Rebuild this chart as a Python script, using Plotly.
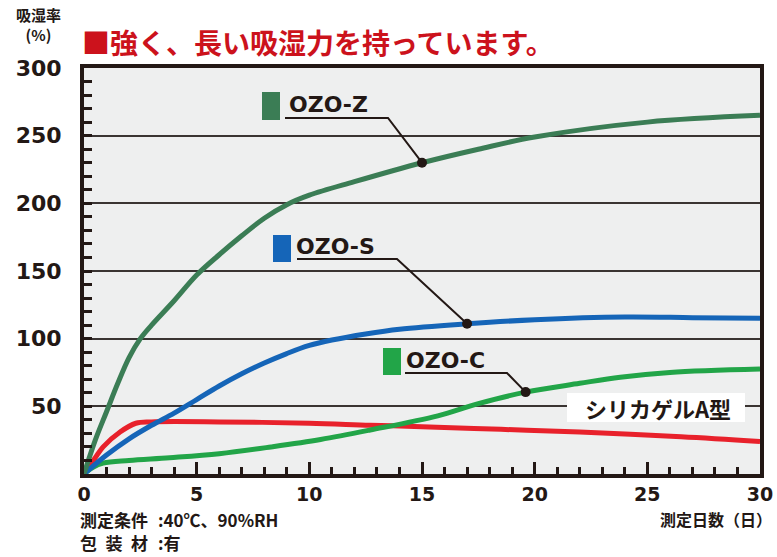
import plotly.graph_objects as go
import numpy as np

# ---------------- data ----------------
z_days = [0, 0.5, 1, 1.5, 2, 2.5, 3, 4, 5, 6, 7, 8, 9, 10, 12, 15, 17.5, 20, 25, 30]
z_vals = [0, 25, 46, 67, 86, 100, 110, 128, 147, 162, 176, 189, 199, 206, 216, 230, 240, 249, 260, 265]

s_days = [0, 1, 2, 3, 4, 5, 6, 7, 8, 9, 10, 11, 12.5, 14, 17, 20, 24, 27, 30]
s_vals = [0, 14, 26, 36, 45, 55, 65, 74, 82, 89, 95, 99, 103.5, 107, 111, 114, 116, 115.5, 115]

c_days = [0, 0.4, 0.85, 2, 3.8, 6, 8.3, 10.5, 12.7, 15.7, 17.5, 19.6, 22, 23.8, 26, 30]
c_vals = [0, 5, 8, 10, 12, 15, 20, 25.5, 32.5, 43, 52, 60.5, 67, 71.5, 75, 77.5]

a_days = [0, 0.5, 0.85, 1.6, 2.3, 3, 6, 10, 12.7, 15, 18.5, 22, 26.5, 30]
a_vals = [0, 12, 20, 31, 37.5, 38.5, 38.5, 37.5, 36, 35, 33, 31, 27.5, 24]

x_ticks = [0, 5, 10, 15, 20, 25, 30]
y_ticks = [50, 100, 150, 200, 250, 300]

names = ["OZO-Z", "OZO-S", "OZO-C"]
label_days = [15, 17, 19.6]          # where the leader lines touch the curves

title = "■強く、長い吸湿力を持っています。"
y_title = "吸湿率<br>(%)"
x_title = "測定日数（日）"
cond1_label = "測定条件"
cond1_value = ":40℃、90%RH"
cond2_label = "包\u2002装\u2002材"
cond2_value = ":有"
silica_name = "シリカゲルA型"

# ---------------- style ----------------
DARK = "#231815"
COL_Z = "#3b7d55"
COL_S = "#1565b8"
COL_C = "#22a548"
COL_A = "#e8212b"
BG = "#eeefef"
NUM_FONT = "DejaVu Sans"
JP_FONT = "Noto Sans CJK JP"

W, H = 777, 557
L, R, T, B = 84, 17, 68, 83
PW, PH = W - L - R, H - T - B


def px2x(px):
    return (px - L) / PW


def py2y(py):
    return (H - B - py) / PH


def dx(px):  # pixel -> data day
    return (px - L) / PW * 30


def dy(py):  # pixel -> data value
    return (H - B - py) / PH * 300


fig = go.Figure()

series = [
    (a_days, a_vals, COL_A, "シリカゲルA型"),
    (c_days, c_vals, COL_C, "OZO-C"),
    (s_days, s_vals, COL_S, "OZO-S"),
    (z_days, z_vals, COL_Z, "OZO-Z"),
]
for d, v, col, nm in series:
    fig.add_trace(go.Scatter(x=d, y=v, mode="lines", name=nm,
                             line=dict(color=col, width=5, shape="spline", smoothing=1.0),
                             hoverinfo="skip", showlegend=False))

# label geometry (pixels for styling)
label_cfg = {
    "OZO-Z": dict(data=(z_days, z_vals), col=COL_Z, sq=(262, 280, 92, 120), tx=287, ty=104, ul=(285, 388, 118)),
    "OZO-S": dict(data=(s_days, s_vals), col=COL_S, sq=(273, 291, 235, 262), tx=294, ty=246, ul=(297, 397, 259)),
    "OZO-C": dict(data=(c_days, c_vals), col=COL_C, sq=(383, 401, 348, 375), tx=404, ty=360, ul=(405, 507, 373)),
}

shapes = []
annotations = []
for nm, dday in zip(names, label_days):
    cfg = label_cfg[nm]
    d, v = cfg["data"]
    yv = float(np.interp(dday, d, v))
    x0, x1, yl = cfg["ul"]
    fig.add_trace(go.Scatter(x=[dx(x0), dx(x1), dday], y=[dy(yl), dy(yl), yv],
                             mode="lines", line=dict(color=DARK, width=2),
                             hoverinfo="skip", showlegend=False))
    fig.add_trace(go.Scatter(x=[dday], y=[yv], mode="markers",
                             marker=dict(color=DARK, size=10),
                             hoverinfo="skip", showlegend=False))
    sx0, sx1, sy0, sy1 = cfg["sq"]
    shapes.append(dict(type="rect", xref="x", yref="y", x0=dx(sx0), x1=dx(sx1),
                       y0=dy(sy1), y1=dy(sy0), fillcolor=cfg["col"], line=dict(width=0)))
    annotations.append(dict(x=dx(cfg["tx"]), y=dy(cfg["ty"]), xref="x", yref="y",
                            text=nm, showarrow=False, xanchor="left", yanchor="middle",
                            font=dict(family=NUM_FONT, size=22, color=DARK, weight="bold")))

# silica gel label with white box
shapes.append(dict(type="rect", xref="x", yref="y", x0=dx(567), x1=dx(745),
                   y0=dy(422), y1=dy(393), fillcolor="white", line=dict(width=0), layer="above"))
annotations.append(dict(x=dx(658), y=dy(408), xref="x", yref="y", text=silica_name,
                        showarrow=False, xanchor="center", yanchor="middle",
                        font=dict(family=JP_FONT, size=22, color=DARK, weight="bold")))


def note(text, px, py, size, anchor="left", color=DARK):
    return dict(x=px2x(px), y=py2y(py), xref="paper", yref="paper", text=text,
                showarrow=False, xanchor=anchor, yanchor="middle",
                font=dict(family=JP_FONT, size=size, color=color, weight="bold"))


annotations += [
    note(title, 80, 42, 28, color="#cc121c"),
    note(y_title, 38, 25, 15, anchor="center"),
    note(cond1_label, 78, 519, 17),
    note(cond1_value, 156, 519, 17),
    note(cond2_label, 78, 542, 17),
    note(cond2_value, 156, 542, 17),
    note(x_title, 774, 519, 16, anchor="right"),
]

fig.update_layout(
    width=W, height=H,
    margin=dict(l=L, r=R, t=T, b=B, autoexpand=False),
    paper_bgcolor="white", plot_bgcolor=BG,
    shapes=shapes, annotations=annotations,
    xaxis=dict(range=[0, 30], tickvals=x_ticks, ticks="inside", ticklen=12, tickwidth=2.5,
               tickcolor=DARK, showgrid=False, zeroline=False, automargin=False,
               showline=True, linewidth=4, linecolor=DARK, mirror=True,
               tickfont=dict(family=NUM_FONT, size=19, color=DARK, weight="bold"),
               ticklabelstandoff=0,
               minor=dict(dtick=1, ticks="inside", ticklen=7, tickwidth=2.5, tickcolor=DARK,
                          showgrid=False)),
    yaxis=dict(range=[0, 300], tickvals=y_ticks, ticks="inside", ticklen=8, tickwidth=2.5,
               tickcolor=DARK, showgrid=True, gridcolor="#3a3432", gridwidth=2, zeroline=False,
               showline=True, linewidth=4, linecolor=DARK, mirror=True, automargin=False,
               tickfont=dict(family=NUM_FONT, size=22, color=DARK, weight="bold"),
               ticklabelstandoff=14,
               minor=dict(dtick=10, ticks="inside", ticklen=8, tickwidth=2.5, tickcolor=DARK,
                          showgrid=False)),
)

fig.write_html("out.html")
